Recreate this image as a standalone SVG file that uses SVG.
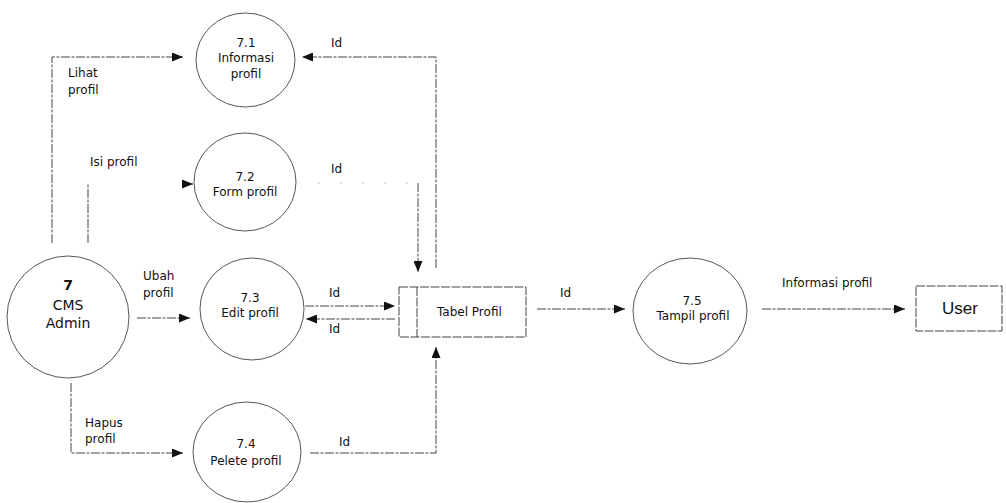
<svg xmlns="http://www.w3.org/2000/svg" width="1006" height="503" viewBox="0 0 1006 503">
<style>
.bg{fill:#fff}
.proc{fill:none;stroke:#444;stroke-width:0.9}
.box{fill:none;stroke:#444;stroke-width:1;stroke-dasharray:9 1.5}
.flow{fill:none;stroke:#444;stroke-width:1;stroke-dasharray:9 1.5 3 1.5}
.faint{fill:none;stroke:#bbb;stroke-width:1;stroke-dasharray:2 20}
.t{font-family:"DejaVu Sans",Verdana,sans-serif;font-size:12px;fill:#111}
.c{text-anchor:middle}
.big{font-size:14px}
.b{font-weight:bold}
.u{font-family:"Liberation Sans",Arial,sans-serif;font-size:17px;fill:#111;text-anchor:middle}
</style>
<defs>
<marker id="ah" markerUnits="userSpaceOnUse" markerWidth="11" markerHeight="9" refX="11" refY="4.5" orient="auto">
<path d="M0,0 L11,4.5 L0,9 z" fill="#111"/>
</marker>
</defs>
<rect class="bg" x="0" y="0" width="1006" height="503"/>

<g id="connectors">
<path class="flow" d="M52,243 V57 H183" marker-end="url(#ah)"/>
<path class="flow" d="M88,243 V183"/>
<path class="flow" d="M184,184 H193" marker-end="url(#ah)"/>
<path class="flow" d="M137,318 H190" marker-end="url(#ah)"/>
<path class="flow" d="M71,383 V453 H183" marker-end="url(#ah)"/>
<path class="flow" d="M436,268 V57 H302" marker-end="url(#ah)"/>
<path class="faint" d="M318,183 H418"/>
<path class="flow" d="M418,183 V272" marker-end="url(#ah)"/>
<path class="flow" d="M305,306 H395" marker-end="url(#ah)"/>
<path class="flow" d="M395,319 H306" marker-end="url(#ah)"/>
<path class="flow" d="M310,453 H436 V347" marker-end="url(#ah)"/>
<path class="flow" d="M537,309 H625" marker-end="url(#ah)"/>
<path class="flow" d="M762,309 H905" marker-end="url(#ah)"/>
<text class="t" x="68" y="77">Lihat</text>
<text class="t" x="68" y="94">profil</text>
<text class="t" x="90" y="166">Isi profil</text>
<text class="t" x="143" y="280">Ubah</text>
<text class="t" x="143" y="297">profil</text>
<text class="t" x="85" y="427">Hapus</text>
<text class="t" x="85" y="443">profil</text>
<text class="t" x="331" y="47">Id</text>
<text class="t" x="331" y="173">Id</text>
<text class="t" x="329" y="297">Id</text>
<text class="t" x="329" y="333">Id</text>
<text class="t" x="339" y="446">Id</text>
<text class="t" x="560" y="297">Id</text>
<text class="t" x="782" y="287">Informasi profil</text>
</g>

<g id="cms-admin">
<circle class="proc" cx="68" cy="317" r="61"/>
<text class="t c big b" x="68" y="290">7</text>
<text class="t c big" x="68" y="310">CMS</text>
<text class="t c big" x="68" y="328">Admin</text>
</g>

<g id="p7-1">
<ellipse class="proc" cx="245.5" cy="60" rx="49.5" ry="47"/>
<text class="t c" x="246" y="47">7.1</text>
<text class="t c" x="246" y="62">Informasi</text>
<text class="t c" x="246" y="78">profil</text>
</g>

<g id="p7-2">
<ellipse class="proc" cx="245" cy="182" rx="51" ry="49"/>
<text class="t c" x="245" y="181">7.2</text>
<text class="t c" x="245" y="196">Form profil</text>
</g>

<g id="p7-3">
<ellipse class="proc" cx="252" cy="309" rx="52" ry="51"/>
<text class="t c" x="250" y="302">7.3</text>
<text class="t c" x="250" y="317">Edit profil</text>
</g>

<g id="p7-4">
<ellipse class="proc" cx="247" cy="452" rx="54" ry="50"/>
<text class="t c" x="246" y="448">7.4</text>
<text class="t c" x="246" y="465">Pelete profil</text>
</g>

<g id="tabel-profil">
<rect class="box" x="399" y="287" width="127" height="50"/>
<line class="box" x1="417" y1="287" x2="417" y2="337"/>
<text class="t" x="437" y="316">Tabel Profil</text>
</g>

<g id="p7-5">
<ellipse class="proc" cx="690" cy="311" rx="57" ry="53"/>
<text class="t c" x="692" y="305">7.5</text>
<text class="t c" x="693" y="320">Tampil profil</text>
</g>

<g id="user">
<rect class="box" x="916" y="286" width="86" height="45"/>
<text class="u" x="960" y="314">User</text>
</g>
</svg>
